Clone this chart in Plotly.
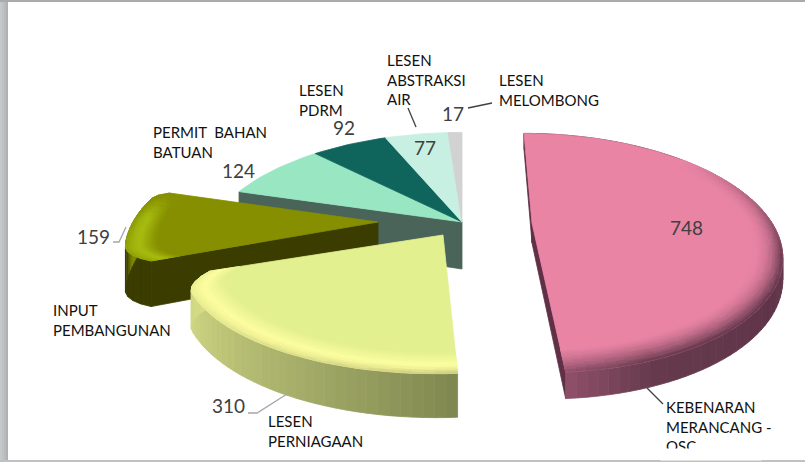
import math
from collections import OrderedDict
import numpy as np
import plotly.graph_objects as go

CATEGORIES = ["KEBENARAN<br>MERANCANG -<br>OSC", "LESEN<br>PERNIAGAAN", "INPUT<br>PEMBANGUNAN",
              "PERMIT  BAHAN<br>BATUAN", "LESEN<br>PDRM", "LESEN<br>ABSTRAKSI<br>AIR", "LESEN<br>MELOMBONG"]
VALUES = [748, 310, 159, 124, 92, 77, 17]
TOP_COLORS = ["#E984A5", "#E3F08F", "#868F00", "#99E6C3", "#0F645C", "#C8F0E2", "#D2D2D2"]

W, H = 805, 462
K = 0.25
STEP = 2.0

total = sum(VALUES)
edges = [0.0]
for v in VALUES:
    edges.append(edges[-1] + 360.0 * v / total)

# projection settings of each exploded block (pixel axes): ax, ay, rx, ry, lean, depth
# and the rounding of its outer corners: (angle, span in degrees, radial loss)
BLOCK = {
    "back":   dict(ax=462, ay=222, rx=250, ry=112, lean=0, d=47, round=[]),
    "olive":  dict(ax=378, ay=222, rx=245, ry=112, lean=0, d=42,
                   round=[(edges[2], 9, 0.09), (edges[3], 4, 0.05)]),
    "yellow": dict(ax=443, ay=235, rx=250, ry=104, lean=5, d=33, round=[(edges[2], 9, 0.09)]),
    "pink":   dict(ax=532, ay=223, rx=240, ry=112, lean=-10, d=20, round=[]),
}


def proj(b, deg, r=1.0, drop=False):
    f = 1.0
    for a, span, loss in b["round"]:
        u = 1 - abs(deg - a) / span
        if u > 0:
            f -= loss * u * u
    r = r * f
    t = math.radians(deg)
    x0, y0 = r * math.sin(t), r * math.cos(t)
    s = 1 / (1 + K * y0)
    px = b["ax"] + s * (b["rx"] * x0 + b["lean"] * y0)
    py = b["ay"] - s * b["ry"] * y0
    if drop:
        py += b["d"] * s
    return px, py


def hex2rgb(c):
    return np.array([int(c[i:i + 2], 16) for i in (1, 3, 5)], float)


def mix(a, b, t):
    v = hex2rgb(a) * (1 - t) + hex2rgb(b) * t
    return "#%02x%02x%02x" % tuple(int(round(q)) for q in v)


def ramp(deg, stops):
    xs = [p[0] for p in stops]
    rgb = [hex2rgb(p[1]) for p in stops]
    v = [np.interp(deg, xs, [c[i] for c in rgb]) for i in range(3)]
    return "#%02x%02x%02x" % tuple(int(round(q)) for q in v)


fig = go.Figure()


def add_poly(groups):
    for col, (xs, ys) in groups.items():
        fig.add_trace(go.Scatter(x=xs, y=ys, mode="lines", fill="toself", fillcolor=col,
                                 line=dict(color=col, width=0.8), hoverinfo="skip", showlegend=False))


def put(groups, col, pts):
    g = groups.setdefault(col, ([], []))
    for p in pts:
        g[0].append(p[0])
        g[1].append(p[1])
    g[0].append(pts[0][0])
    g[1].append(pts[0][1])
    g[0].append(None)
    g[1].append(None)


def arc(a0, a1):
    n = max(2, int(abs(a1 - a0) / STEP) + 1)
    return list(np.linspace(a0, a1, n + 1))


def wedge(b, a0, a1, color):
    pts = [proj(b, a0, 0.0)] + [proj(b, a, 1.0) for a in arc(a0, a1)]
    g = OrderedDict()
    put(g, color, pts)
    add_poly(g)


def radial_wall(b, a, color):
    g = OrderedDict()
    put(g, color, [proj(b, a, 0.0), proj(b, a, 1.0), proj(b, a, 1.0, True), proj(b, a, 0.0, True)])
    add_poly(g)


def outer_wall(b, a0, a1, stops):
    g = OrderedDict()
    angs = arc(a0, a1)
    for p, q in zip(angs[:-1], angs[1:]):
        put(g, ramp((p + q) / 2, stops), [proj(b, p), proj(b, q), proj(b, q, 1, True), proj(b, p, 1, True)])
    add_poly(g)


def bevel(b, a0, a1, flat, mid, stops, bandfun, wfun, mid_pos=0.55, nband=14, powerfun=lambda a: 2.0):
    g = OrderedDict()
    angs = arc(a0, a1)
    for p, q in zip(angs[:-1], angs[1:]):
        m = (p + q) / 2
        w = wfun(m)
        if w <= 0:
            continue
        end = ramp(m, stops)
        redges = np.linspace(1 - bandfun(m), 1.0, nband + 1)
        for j in range(nband):
            r0, r1 = redges[j], redges[j + 1]
            t = (j + 0.5) / nband
            if mid is None:
                c = mix(flat, end, t ** powerfun(m))
            elif t < mid_pos:
                c = mix(flat, mid, t / mid_pos)
            else:
                c = mix(mid, end, ((t - mid_pos) / (1 - mid_pos)) ** 2)
            c = mix(flat, c, w)
            rgb = np.clip(np.round(hex2rgb(c) / 3) * 3, 0, 255)
            c = "#%02x%02x%02x" % tuple(int(v) for v in rgb)
            put(g, c, [proj(b, p, r0), proj(b, q, r0), proj(b, q, r1), proj(b, p, r1)])
    add_poly(g)


# back block: permit, pdrm, abstraksi, melombong
back = BLOCK["back"]
radial_wall(back, edges[3], "#4A6459")
for i in (3, 4, 5, 6):
    wedge(back, edges[i], edges[i + 1], TOP_COLORS[i])

# olive block
ol = BLOCK["olive"]
ol_stops = [(edges[2], "#3A3C00"), (edges[2] + 14, "#3A3C00"), (edges[2] + 20, "#7E8A00"), (edges[3], "#7E8A00")]
outer_wall(ol, edges[2], edges[3], ol_stops)
radial_wall(ol, edges[2], "#3A3C00")
wedge(ol, edges[2], edges[3], TOP_COLORS[2])
bevel(ol, edges[2], edges[3], TOP_COLORS[2], "#A6BA10", [(edges[2], "#8FA400"), (edges[3], "#86920A")],
      lambda a: 0.12, lambda a: min(1.0, max(0.0, (edges[3] - 2 - a) / 12)))

# yellow block
ye = BLOCK["yellow"]
ye_stops = [(edges[1], "#7F8750"), (edges[1] + 25, "#A0A866"), (edges[1] + 50, "#BFC678"), (edges[2], "#D6DD88")]
outer_wall(ye, edges[1], edges[2], ye_stops)
wedge(ye, edges[1], edges[2], TOP_COLORS[1])
bevel(ye, edges[1], edges[2], TOP_COLORS[1], "#FBFC9E",
      [(edges[1], "#C9C77E"), (edges[2], "#EEF295")], lambda a: 0.12, lambda a: 1.0)

# pink block
pk = BLOCK["pink"]
pk_stops = [(0, "#5C3146"), (90, "#6A3D50"), (125, "#60354A"), (160, "#663A4C"), (edges[1], "#8E5069")]
radial_wall(pk, edges[0], "#5B2F45")
radial_wall(pk, edges[1], "#5F3046")
outer_wall(pk, edges[0], edges[1], pk_stops)
wedge(pk, edges[0], edges[1], TOP_COLORS[0])
bevel(pk, edges[0], edges[1], TOP_COLORS[0], None, pk_stops, lambda a: 0.12,
      lambda a: min(1.0, max(0.0, 0.7 - 1.1 * math.cos(math.radians(a)))),
      powerfun=lambda a: 1.3 + 1.2 * max(0.0, math.sin(math.radians(a))) ** 2)

# leader lines
LEADERS = [
    [(113, 242), (119, 242), (126, 227)],
    [(248, 413), (257, 413), (287, 394)],
    [(408, 108), (416, 127)],
    [(468, 108), (492, 103)],
    [(647, 388), (663, 404)],
]
LEADER_COLORS = ["#A6A6A6", "#A6A6A6", "#404040", "#404040", "#404040"]
for pts, c in zip(LEADERS, LEADER_COLORS):
    fig.add_trace(go.Scatter(x=[p[0] for p in pts], y=[p[1] for p in pts], mode="lines",
                             line=dict(color=c, width=1.3), hoverinfo="skip", showlegend=False))

LABEL_POS = [(665, 397), (267, 411), (52, 300), (152, 122), (298, 80), (386, 50), (498, 70)]
VALUE_POS = [(686, 227), (228, 405), (93, 236), (238, 170), (344, 127), (425, 147), (453, 113)]

ann = []
for txt, (x, y) in zip(CATEGORIES, LABEL_POS):
    ann.append(dict(x=x, y=y, xref="x", yref="y", text=txt, showarrow=False, xanchor="left", yanchor="top",
                    align="left", font=dict(family="Lato", size=15, color="#111111"), borderpad=0))
# the last label line is cut off by the bottom of the frame
ann.append(dict(x=660, y=448, xref="x", yref="y", text=" ", showarrow=False, xanchor="left", yanchor="top",
                width=100, height=11, bgcolor="#FFFFFF", borderpad=0))
for v, (x, y) in zip(VALUES, VALUE_POS):
    ann.append(dict(x=x, y=y, xref="x", yref="y", text=str(v), showarrow=False, xanchor="center", yanchor="middle",
                    font=dict(family="Lato", size=19, color="#404040"), borderpad=0))

shapes = []
for x0, x1, c in [(0, 2, "#C4C8C8"), (2, 4, "#BEC2C2"), (4, 6, "#B8BCBC"), (6, 8, "#AEB2B2")]:
    shapes.append(dict(type="rect", xref="x", yref="y", x0=x0, x1=x1, y0=0, y1=H, fillcolor=c, line_width=0, layer="above"))
shapes.append(dict(type="rect", xref="x", yref="y", x0=0, x1=W, y0=0, y1=2, fillcolor="#A9ABAB", line_width=0, layer="above"))
shapes.append(dict(type="rect", xref="x", yref="y", x0=0, x1=W, y0=460, y1=H, fillcolor="#C0C2C2", line_width=0, layer="above"))

fig.update_layout(
    width=W, height=H, margin=dict(l=0, r=0, t=0, b=0), autosize=False,
    paper_bgcolor="#FFFFFF", plot_bgcolor="#FFFFFF", showlegend=False,
    xaxis=dict(range=[0, W], visible=False, fixedrange=True),
    yaxis=dict(range=[H, 0], visible=False, fixedrange=True),
    annotations=ann, shapes=shapes,
)
fig.write_html("out.html", config={"displayModeBar": False},
               post_script="document.body.style.margin='0';document.documentElement.style.overflow='hidden';")
